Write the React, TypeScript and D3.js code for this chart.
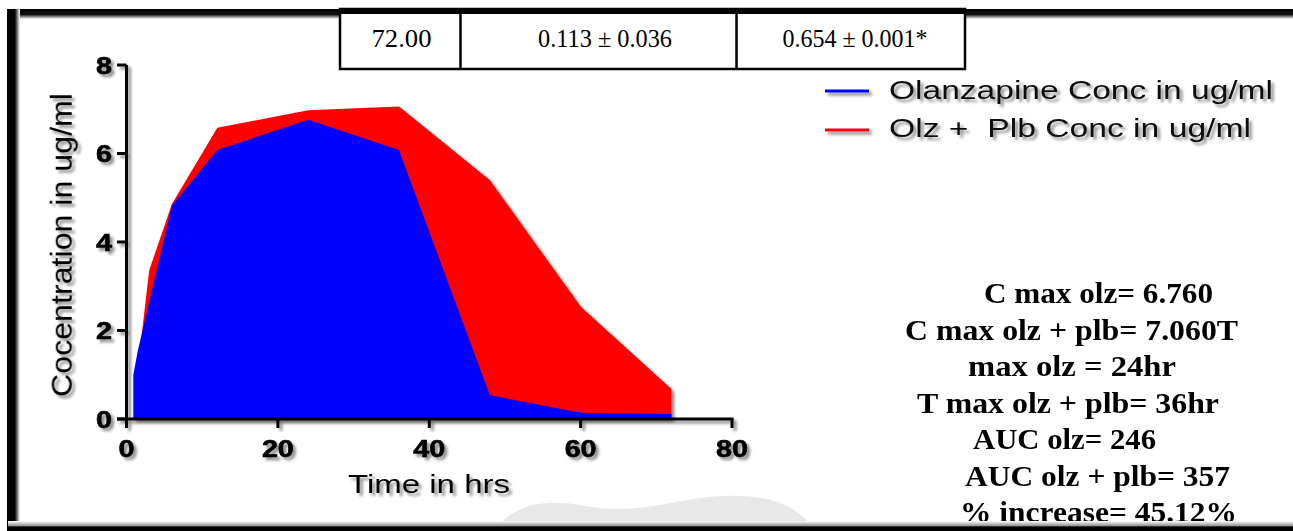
import React from 'react';
import * as d3 from 'd3';

const timesOlz = [0.9, 1.5, 6, 12, 24, 36, 48, 60, 72];
const concOlz = [1.0, 1.55, 4.82, 6.08, 6.76, 6.08, 0.54, 0.14, 0.113];
const timesPlb = [1, 3, 6, 12, 24, 36, 48, 60, 72];
const concPlb = [0.43, 3.36, 4.86, 6.58, 6.98, 7.06, 5.4, 2.54, 0.68];
const xTicks = [0, 20, 40, 60, 80];
const yTicks = [0, 2, 4, 6, 8];
const seriesNames = ['Olanzapine Conc in ug/ml', 'Olz +  Plb Conc in ug/ml'];
const seriesColors = ['#0000ff', '#ff0000'];
const tableCells = ['72.00', '0.113 ± 0.036', '0.654 ± 0.001*'];
const notes = [
  'C max olz= 6.760',
  'C max olz + plb= 7.060T',
  'max olz = 24hr',
  'T max olz + plb= 36hr',
  'AUC olz= 246',
  'AUC olz + plb= 357',
  '% increase= 45.12%',
];

const W = 1293;
const H = 531;
const SANS = '"Liberation Sans", Arial, sans-serif';
const SERIF = '"Liberation Serif", "Times New Roman", serif';

export default function App() {
  const x = d3.scaleLinear().domain([0, 80]).range([126.5, 732]);
  const y = d3.scaleLinear().domain([0, 8]).range([419, 65]);
  const area = d3
    .area<[number, number]>()
    .x((d) => x(d[0]))
    .y0(y(0))
    .y1((d) => y(d[1]));
  const olz: [number, number][] = timesOlz.map((t, i) => [t, concOlz[i]]);
  const plb: [number, number][] = timesPlb.map((t, i) => [t, concPlb[i]]);

  const noteLayout = [
    { x0: 984, x1: 1213, b: 303 },
    { x0: 905, x1: 1238, b: 340 },
    { x0: 968, x1: 1176, b: 376 },
    { x0: 917, x1: 1219, b: 413 },
    { x0: 973, x1: 1156, b: 449 },
    { x0: 965, x1: 1230, b: 485.5 },
    { x0: 960, x1: 1237, b: 522 },
  ];
  const tableLayout = [
    { c: 401.5, w: 60 },
    { c: 605, w: 134 },
    { c: 855, w: 145 },
  ];
  const sx = 1.22;

  return (
    <svg
      width={W}
      height={H}
      viewBox={`0 0 ${W} ${H}`}
      style={{ position: 'absolute', left: 0, top: 0, background: '#fff' }}
    >
      <defs>
        <filter id="sh" x="-10%" y="-10%" width="130%" height="130%">
          <feGaussianBlur in="SourceAlpha" stdDeviation="1.8" result="b" />
          <feOffset in="b" dx="3" dy="3" result="o" />
          <feComponentTransfer in="o" result="s">
            <feFuncA type="linear" slope="0.45" />
          </feComponentTransfer>
          <feMerge>
            <feMergeNode in="s" />
            <feMergeNode in="SourceGraphic" />
          </feMerge>
        </filter>
        <linearGradient id="topg" x1="0" y1="0" x2="0" y2="1">
          <stop offset="0" stopColor="#000" />
          <stop offset="0.55" stopColor="#111" />
          <stop offset="1" stopColor="#fff" />
        </linearGradient>
        <linearGradient id="leftg" x1="0" y1="0" x2="1" y2="0">
          <stop offset="0" stopColor="#000" />
          <stop offset="0.6" stopColor="#000" />
          <stop offset="1" stopColor="#fff" />
        </linearGradient>
        <linearGradient id="botg" x1="0" y1="0" x2="0" y2="1">
          <stop offset="0" stopColor="#fff" />
          <stop offset="0.45" stopColor="#999" />
          <stop offset="0.6" stopColor="#000" />
          <stop offset="1" stopColor="#000" />
        </linearGradient>
        <clipPath id="noteclip">
          <rect x={0} y={0} width={W} height={521} />
        </clipPath>
      </defs>

      {/* watermark blob */}
      <path
        d="M497,527 C515,505 545,498 585,506 C625,514 660,504 700,498 C745,492 790,496 812,527 Z"
        fill="#e8e8e8"
      />

      {/* frame */}
      <rect x={8} y={9} width={W - 8} height={10} fill="url(#topg)" />
      <rect x={7} y={9} width={13} height={H - 9} fill="url(#leftg)" />
      <rect x={8} y={521} width={W - 8} height={10} fill="url(#botg)" />

      {/* table */}
      <rect x={340} y={9} width={625} height={60} fill="#fff" stroke="#000" strokeWidth={2.5} />
      <line x1={460.5} x2={460.5} y1={9} y2={69} stroke="#000" strokeWidth={2.5} />
      <line x1={736.5} x2={736.5} y1={9} y2={69} stroke="#000" strokeWidth={2.5} />
      <rect x={340} y={9} width={625} height={5} fill="#000" />
      {tableCells.map((t, i) => (
        <text
          key={i}
          x={tableLayout[i].c - tableLayout[i].w / 2}
          y={47}
          fontFamily={SERIF}
          fontSize={25}
          textLength={tableLayout[i].w}
          lengthAdjust="spacingAndGlyphs"
          fill="#000"
        >
          {t}
        </text>
      ))}

      {/* chart */}
      <g filter="url(#sh)">
        <path d={area(plb) || ''} fill={seriesColors[1]} />
        <path d={area(olz) || ''} fill={seriesColors[0]} />
      </g>
      <g filter="url(#sh)">
        <line x1={x(0)} x2={x(0)} y1={y(8)} y2={y(0) + 1.5} stroke="#000" strokeWidth={3} />
        <line x1={117} x2={x(80) + 1.5} y1={y(0)} y2={y(0)} stroke="#000" strokeWidth={3} />
        {yTicks.map((t) => (
          <g key={'y' + t}>
            <line x1={117} x2={x(0)} y1={y(t)} y2={y(t)} stroke="#000" strokeWidth={3} />
            <text
              x={112}
              y={y(t) + 8.5}
              textAnchor="end"
              fontFamily={SANS}
              fontWeight="bold"
              fontSize={23}
              textLength={16}
              lengthAdjust="spacingAndGlyphs"
              fill="#000"
              stroke="#000"
              strokeWidth={0.6}
            >
              {t}
            </text>
          </g>
        ))}
        {xTicks.map((t) => (
          <g key={'x' + t}>
            <line x1={x(t)} x2={x(t)} y1={y(0)} y2={y(0) + 9} stroke="#000" strokeWidth={3} />
            <text
              x={x(t) - (String(t).length * 16) / 2}
              y={457}
              fontFamily={SANS}
              fontWeight="bold"
              fontSize={23}
              textLength={String(t).length * 16}
              lengthAdjust="spacingAndGlyphs"
              fill="#000"
              stroke="#000"
              strokeWidth={0.6}
            >
              {t}
            </text>
          </g>
        ))}
        <text
          x={348}
          y={493}
          fontFamily={SANS}
          fontSize={25}
          textLength={162}
          lengthAdjust="spacingAndGlyphs"
          fill="#000"
        >
          Time in hrs
        </text>
        <g transform={`translate(72,245) scale(${sx},1) rotate(-90)`}>
          <text
            x={-152}
            y={0}
            fontFamily={SANS}
            fontSize={24}
            textLength={304}
            lengthAdjust="spacingAndGlyphs"
            fill="#000"
          >
            Cocentration in ug/ml
          </text>
        </g>
        {seriesNames.map((n, i) => (
          <g key={n}>
            <line
              x1={825}
              x2={869}
              y1={91 + i * 39}
              y2={91 + i * 39}
              stroke={seriesColors[i]}
              strokeWidth={3}
            />
            <text
              x={889}
              y={99 + i * 38}
              fontFamily={SANS}
              fontSize={25}
              textLength={i === 0 ? 384 : 362}
              lengthAdjust="spacingAndGlyphs"
              fill="#111"
              style={{ whiteSpace: 'pre' }}
            >
              {n}
            </text>
          </g>
        ))}
      </g>

      {/* notes */}
      <g clipPath="url(#noteclip)">
        {notes.map((n, i) => (
          <text
            key={i}
            x={noteLayout[i].x0}
            y={noteLayout[i].b}
            fontFamily={SERIF}
            fontWeight="bold"
            fontSize={30}
            textLength={noteLayout[i].x1 - noteLayout[i].x0}
            lengthAdjust="spacingAndGlyphs"
            fill="#000"
          >
            {n}
          </text>
        ))}
      </g>
    </svg>
  );
}
